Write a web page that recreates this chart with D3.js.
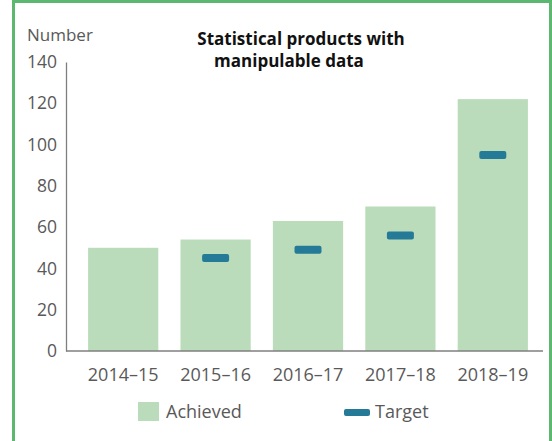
<!DOCTYPE html>
<html>
<head>
<meta charset="utf-8">
<script src="https://cdn.jsdelivr.net/npm/d3@7"></script>
<style>
  body { margin: 0; background: #fff; }
  text { font-family: "Open Sans", sans-serif; }
</style>
</head>
<body>
<div id="chart"></div>
<script>
// chart data
var years = ["2014–15", "2015–16", "2016–17", "2017–18", "2018–19"];
var achieved = [50, 54, 63, 70, 122];
var target = [null, 45, 49, 56, 95];
var yTicks = [0, 20, 40, 60, 80, 100, 120, 140];

var width = 552, height = 441;
var barColor = "#bbdcbb";
var targetColor = "#257b97";
var textColor = "#595959";

var svg = d3.select("#chart").append("svg")
    .attr("width", width)
    .attr("height", height);

// green frame
svg.append("rect")
    .attr("x", 13.5).attr("y", 1.5)
    .attr("width", 537).attr("height", 450)
    .attr("fill", "none")
    .attr("stroke", "#5cb870")
    .attr("stroke-width", 3);

// scales
var xScale = d3.scaleBand()
    .domain(years)
    .range([77, 539])
    .paddingInner(0.24)
    .paddingOuter(0.12);

var yScale = d3.scaleLinear()
    .domain([0, 140])
    .range([351, 62]);

// bars
svg.selectAll(".bar")
    .data(years)
    .enter().append("rect")
    .attr("class", "bar")
    .attr("x", function(d) { return xScale(d); })
    .attr("width", xScale.bandwidth())
    .attr("y", function(d, i) { return yScale(achieved[i]); })
    .attr("height", function(d, i) { return yScale(0) - yScale(achieved[i]); })
    .attr("fill", barColor);

// target markers
var tw = 27, th = 8;
svg.selectAll(".target")
    .data(years.filter(function(d, i) { return target[i] != null; }))
    .enter().append("rect")
    .attr("class", "target")
    .attr("x", function(d) { return xScale(d) + xScale.bandwidth() / 2 - tw / 2; })
    .attr("y", function(d) { return yScale(target[years.indexOf(d)]) - th / 2; })
    .attr("width", tw)
    .attr("height", th)
    .attr("rx", 2)
    .attr("fill", targetColor);

// y axis (line + labels, no ticks)
var yAxis = svg.append("g")
    .attr("transform", "translate(66,0)")
    .call(d3.axisLeft(yScale).tickValues(yTicks).tickSize(0).tickPadding(9));
yAxis.select(".domain").attr("stroke", "#7f7f7f").attr("stroke-width", 1.3);
yAxis.selectAll("text")
    .attr("fill", textColor)
    .style("font-size", "17.5px")
    .style("font-family", "'Open Sans', sans-serif");

// x axis
var xAxis = svg.append("g")
    .attr("transform", "translate(0,351)")
    .call(d3.axisBottom(xScale).tickSize(0).tickPadding(17));
xAxis.select(".domain").remove();
svg.append("line")
    .attr("x1", 66).attr("x2", 543)
    .attr("y1", 351).attr("y2", 351)
    .attr("stroke", "#7f7f7f")
    .attr("stroke-width", 1.3);
xAxis.selectAll("text")
    .attr("fill", textColor)
    .style("font-size", "18px")
    .style("font-family", "'Open Sans', sans-serif");

// axis title
svg.append("text")
    .attr("x", 27).attr("y", 41)
    .attr("fill", textColor)
    .style("font-size", "17px")
    .text("Number");

// chart title
var title = svg.append("text")
    .attr("text-anchor", "middle")
    .attr("font-weight", "bold")
    .attr("fill", "#111")
    .style("font-size", "17px");
title.append("tspan").attr("x", 301).attr("y", 45).text("Statistical products with");
title.append("tspan").attr("x", 289).attr("y", 67).text("manipulable data");

// legend
svg.append("rect")
    .attr("x", 138).attr("y", 402)
    .attr("width", 21).attr("height", 19)
    .attr("fill", barColor);
svg.append("text")
    .attr("x", 166).attr("y", 418)
    .attr("fill", textColor)
    .style("font-size", "18px")
    .text("Achieved");

svg.append("rect")
    .attr("x", 344).attr("y", 409)
    .attr("width", 26).attr("height", 7)
    .attr("rx", 2)
    .attr("fill", targetColor);
svg.append("text")
    .attr("x", 375).attr("y", 418)
    .attr("fill", textColor)
    .style("font-size", "18px")
    .text("Target");
</script>
</body>
</html>
